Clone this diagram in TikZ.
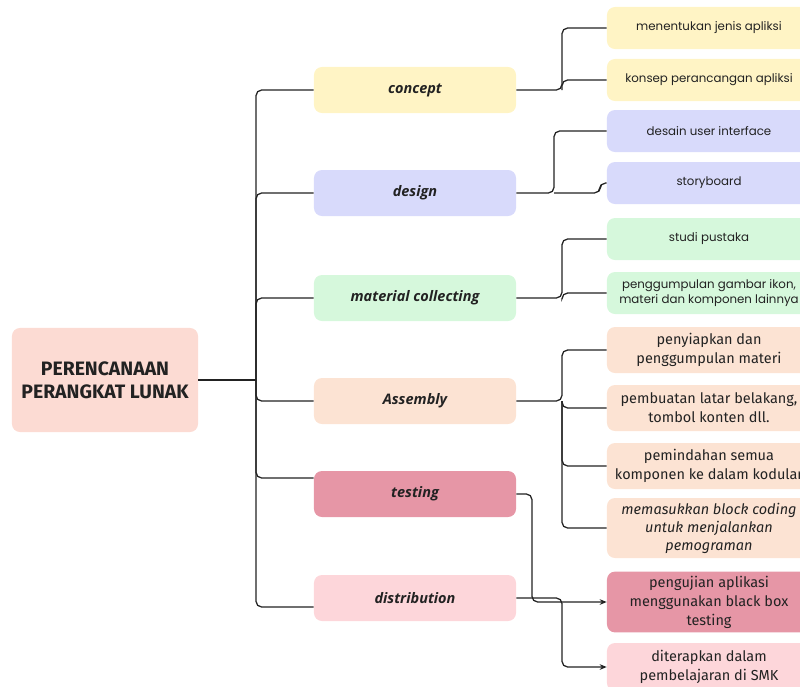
\documentclass[tikz,border=0pt]{standalone}
\usepackage{fontspec}
\setmainfont{Poppins}
\newfontfamily\barfont{Fira Sans}
\newfontfamily\midfont{Open Sans}
\usetikzlibrary{positioning,arrows.meta}
\definecolor{rootpink}{HTML}{FCDBD3}
\definecolor{conceptyel}{HTML}{FFF4C5}
\definecolor{designlav}{HTML}{D8DAFB}
\definecolor{materialgrn}{HTML}{D6F8DC}
\definecolor{assemblypch}{HTML}{FCE3D3}
\definecolor{testingpnk}{HTML}{E696A6}
\definecolor{distribpnk}{HTML}{FDD6DA}
\definecolor{inkgray}{HTML}{222222}
\tikzset{
  box/.style={rounded corners=0.2cm, text=inkgray, align=center, inner sep=0pt},
  rootbox/.style={box, minimum width=4.65cm, minimum height=2.6cm,
    font=\barfont\bfseries\fontsize{13.8}{16.5}\selectfont},
  midbox/.style={box, minimum width=5.05cm, minimum height=1.15cm,
    font=\midfont\bfseries\itshape\fontsize{10.3}{12}\selectfont},
  leafbox/.style={box, minimum width=5.1cm, minimum height=1.05cm,
    font=\fontsize{8.4}{10.8}\selectfont},
  bigleaf/.style={box, minimum width=5.1cm, minimum height=1.15cm,
    font=\barfont\fontsize{10.3}{13.5}\selectfont},
  link/.style={draw=inkgray, line width=0.9pt, rounded corners=4pt},
  arrowlink/.style={link, -{Stealth[length=5pt,width=4pt]}}
}
\begin{document}
\begin{tikzpicture}[x=0.025cm,y=-0.025cm]
    \useasboundingbox (0,0) rectangle (800,686);

    \node[rootbox, fill=rootpink] (root) at (105,380) {PERENCANAAN\\PERANGKAT LUNAK};

    \node[midbox, fill=conceptyel] (concept) at (415,90) {concept};
    \node[midbox, fill=designlav] (design) at (415,193) {design};
    \node[midbox, fill=materialgrn] (material) at (415,298) {material collecting};
    \node[midbox, fill=assemblypch] (assembly) at (415,401) {Assembly};
    \node[midbox, fill=testingpnk] (testing) at (415,494) {testing};
    \node[midbox, fill=distribpnk] (distribution) at (415,598) {distribution};

    \node[leafbox, fill=conceptyel] (jenis) at (709,28) {menentukan jenis apliksi};
    \node[leafbox, fill=conceptyel] (konsep) at (709,80) {konsep perancangan apliksi};
    \node[leafbox, fill=designlav] (ui) at (709,131) {desain user interface};
    \node[leafbox, fill=designlav] (story) at (709,183) {storyboard};
    \node[leafbox, fill=materialgrn] (pustaka) at (709,239) {studi pustaka};
    \node[leafbox, fill=materialgrn] (gambar) at (709,293) {penggumpulan gambar ikon,\\materi dan komponen lainnya};
    \node[bigleaf, fill=assemblypch] (siap) at (709,350) {penyiapkan dan\\penggumpulan materi};
    \node[bigleaf, fill=assemblypch] (latar) at (709,408) {pembuatan latar belakang,\\tombol konten dll.};
    \node[bigleaf, fill=assemblypch] (pindah) at (709,466) {pemindahan semua\\komponen ke dalam kodular};
    \node[bigleaf, fill=assemblypch, minimum height=1.5cm, font=\barfont\itshape\fontsize{10.3}{12.8}\selectfont] (block) at (709,528) {memasukkan block coding\\untuk menjalankan\\pemograman};
    \node[bigleaf, fill=testingpnk, minimum height=1.52cm] (uji) at (709,602) {pengujian aplikasi\\menggunakan black box\\testing};
    \node[bigleaf, fill=distribpnk, minimum height=1.2cm] (smk) at (709,667) {diterapkan dalam\\pembelajaran di SMK};

    \coordinate (trunk) at (256,380);
    \draw[link] (root.east) -- (trunk);
    \draw[link] (concept.west) -| (trunk) |- ([yshift=-2.25mm]distribution.west);
    \draw[link] (trunk) |- (design.west);
    \draw[link] (trunk) |- (material.west);
    \draw[link] (trunk) |- (assembly.west);
    \draw[link] (trunk) |- ([yshift=4mm]testing.west);

    \coordinate (cfork) at (562,90);
    \draw[link] (concept.east) -- (cfork) |- (jenis.west);
    \draw[link] (cfork) |- (konsep.west);

    \coordinate (dfork) at (554,193);
    \coordinate (dstep) at (600,193);
    \draw[link] (design.east) -- (dfork) |- (ui.west);
    \draw[link] (dfork) -- (dstep) |- (story.west);

    \coordinate (mfork) at (562,298);
    \draw[link] (material.east) -- (mfork) |- (pustaka.west);
    \draw[link] (mfork) |- (gambar.west);

    \coordinate (afork) at (562,401);
    \draw[link] (assembly.east) -- (afork) |- (siap.west);
    \draw[link] (afork) |- (latar.west);
    \draw[link] (afork) |- (pindah.west);
    \draw[link] (afork) |- (block.west);

    \coordinate (tdrop) at (532,560);
    \draw[arrowlink] (testing.east) -| (tdrop) |- (uji.west);

    \coordinate (sfork) at (562,598);
    \draw[arrowlink] (distribution.east) -- (sfork) |- (smk.west);
\end{tikzpicture}
\end{document}
